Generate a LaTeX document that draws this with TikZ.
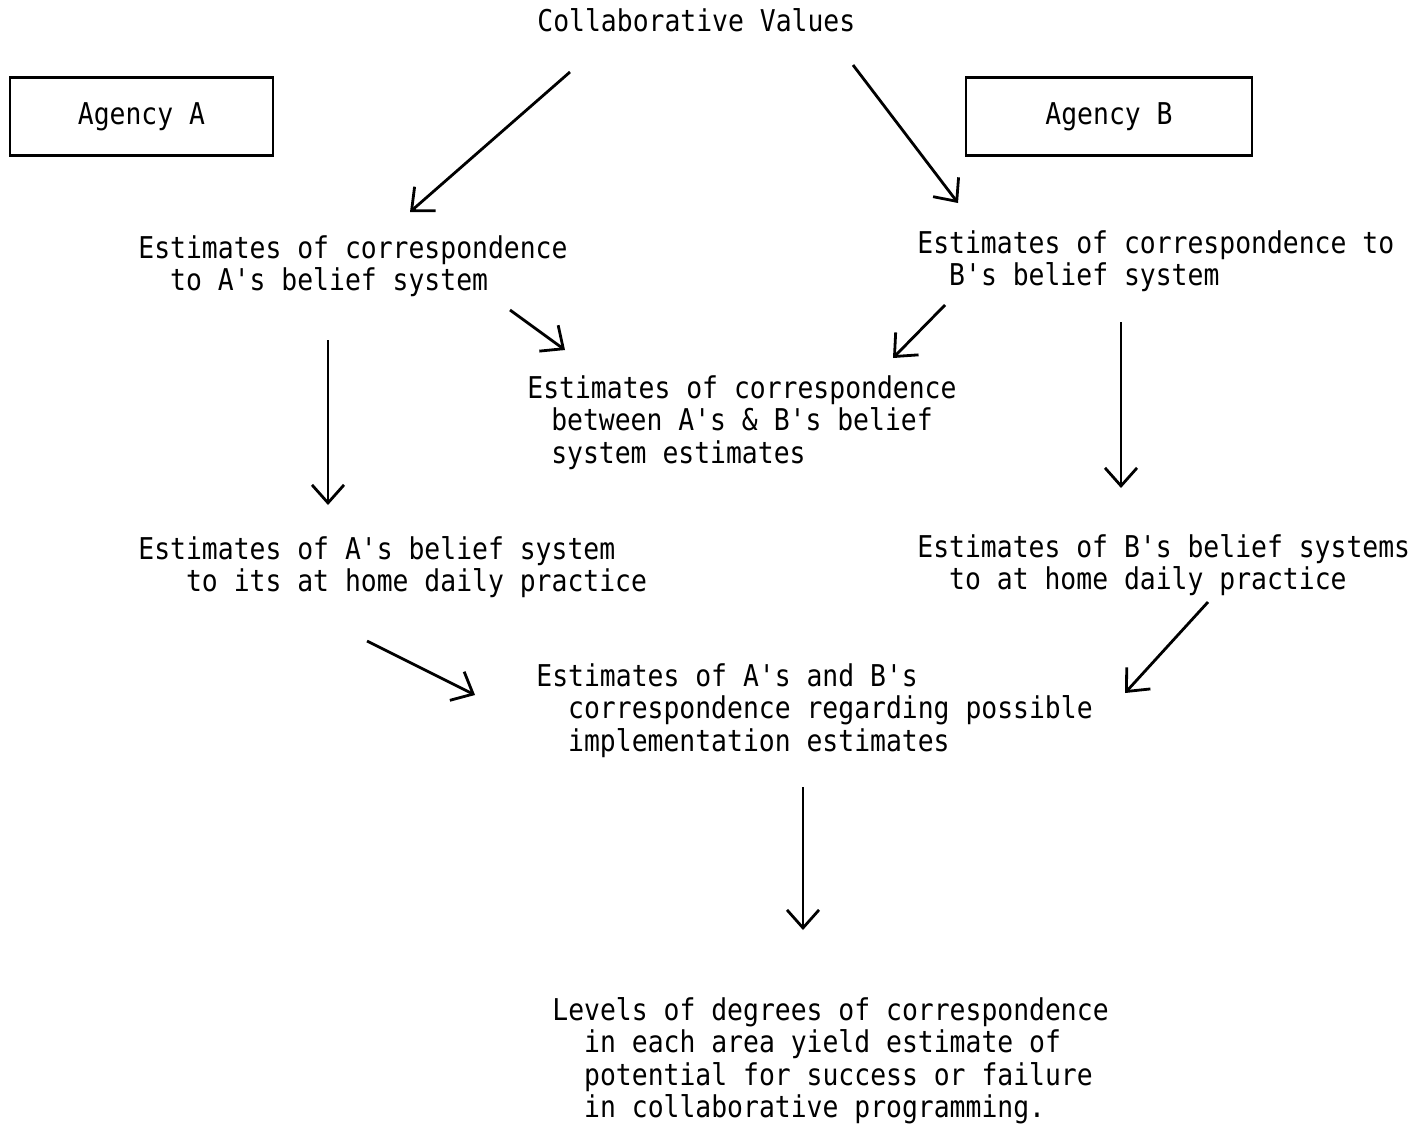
\documentclass[tikz,border=0pt]{standalone}
\usepackage{fontspec}
\newfontfamily\typew[FakeStretch=0.88,Ligatures=TeXOff]{DejaVu Sans Mono}
\usepackage{tikz}
\usetikzlibrary{arrows.meta}

\newlength\charw
\setlength\charw{7.95pt}
\newcommand\indt[1]{\hspace*{#1\charw}}

\tikzset{
	txt/.style={anchor=north west,inner sep=0pt,align=left,font=\typew\fontsize{15}{16.2}\selectfont},
	agency/.style={draw,line width=1.2pt,minimum height=39pt,inner sep=0pt,font=\typew\fontsize{15}{16.2}\selectfont},
	arr/.style={line width=1.4pt,-{Straight Barb[length=9pt,width=16pt,line width=1.4pt]}}
}

\begin{document}
\begin{tikzpicture}[x=0.5pt,y=-0.5pt]
	\useasboundingbox (0,0) rectangle (1428,1124);	%page size of the scan

	\node[txt] (cv) at (537,8) {Collaborative Values};
	\node[agency,minimum width=131.5pt] (agA) at (141.5,116.5) {Agency A};
	\node[agency,minimum width=143pt] (agB) at (1109,116.5) {Agency B};

	\node[txt] (estA) at (138,235) {Estimates of correspondence\\ \indt{2}to A's belief system};
	\node[txt] (estB) at (917,230) {Estimates of correspondence to\\ \indt{2}B's belief system};
	\node[txt] (estAB) at (527,375) {Estimates of correspondence\\ \indt{1.5}between A's \& B's belief\\ \indt{1.5}system estimates};
	\node[txt] (pracA) at (138,536) {Estimates of A's belief system\\ \indt{3}to its at home daily practice};
	\node[txt] (pracB) at (917,534) {Estimates of B's belief systems\\ \indt{2}to at home daily practice};
	\node[txt] (impl) at (536,663) {Estimates of A's and B's\\ \indt{2}correspondence regarding possible\\ \indt{2}implementation estimates};
	\node[txt] (lev) at (552,997) {Levels of degrees of correspondence\\ \indt{2}in each area yield estimate of\\ \indt{2}potential for success or failure\\ \indt{2}in collaborative programming.};

	% free ends of the hand drawn arrows
	\coordinate (cv-l) at (570,72);		\coordinate (estA-in) at (410,212);
	\coordinate (cv-r) at (853,65);		\coordinate (estB-in) at (958,203);
	\coordinate (estA-r) at (510,310);	\coordinate (estAB-l) at (565,350);
	\coordinate (estB-l) at (945,305);	\coordinate (estAB-r) at (893,358);
	\coordinate (estA-d) at (328,340);	\coordinate (pracA-in) at (328,505);
	\coordinate (estB-d) at (1121,322);	\coordinate (pracB-in) at (1121,488);
	\coordinate (pracA-d) at (367,641);	\coordinate (impl-l) at (475,695);
	\coordinate (pracB-d) at (1208,602);	\coordinate (impl-r) at (1125,693);
	\coordinate (impl-d) at (803,787);	\coordinate (lev-in) at (803,930);

	\foreach \a/\b in {cv-l/estA-in,cv-r/estB-in,estA-r/estAB-l,estB-l/estAB-r,estA-d/pracA-in,estB-d/pracB-in,pracA-d/impl-l,pracB-d/impl-r,impl-d/lev-in}{
		\draw[arr] (\a) -- (\b);
	}
\end{tikzpicture}
\end{document}
